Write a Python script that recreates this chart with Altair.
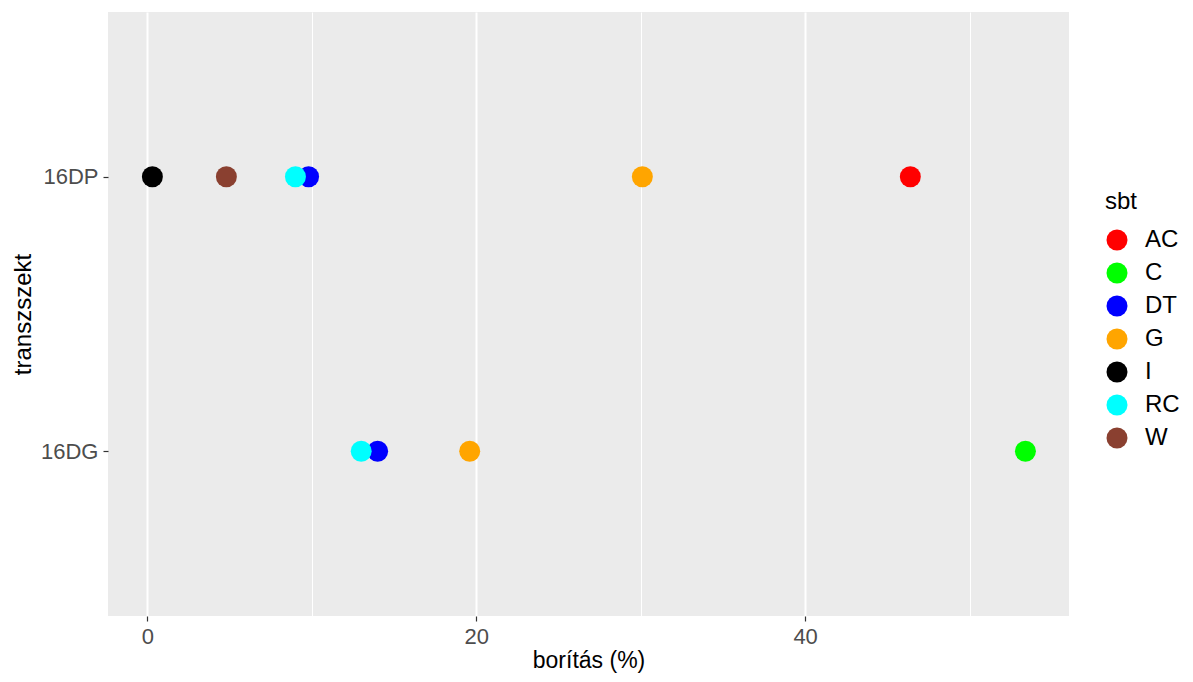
import altair as alt
import pandas as pd

transects = ["16DP", "16DP", "16DP", "16DP", "16DP", "16DP",
             "16DG", "16DG", "16DG", "16DG"]
groups = ["AC", "DT", "G", "I", "RC", "W",
          "C", "DT", "G", "RC"]
cover = [46.4, 9.8, 30.1, 0.3, 9.0, 4.8,
         53.4, 14.0, 19.6, 13.0]

sbt_levels = ["AC", "C", "DT", "G", "I", "RC", "W"]
sbt_colors = ["#ff0000", "#00ff00", "#0000ff", "#ffa500", "#000000", "#00ffff", "#8a4030"]

df = pd.DataFrame({"transszekt": transects, "sbt": groups, "boritas": cover})
df["order"] = df["sbt"].map({k: i for i, k in enumerate(sbt_levels)})
df = df.sort_values("order")

font = "Liberation Sans"

chart = alt.Chart(df).mark_point(filled=True, opacity=1, size=440, shape="circle").encode(
    x=alt.X("boritas:Q", title="borítás (%)",
            scale=alt.Scale(domain=[-2.4, 56.05], nice=False, zero=False),
            axis=alt.Axis(values=[0, 10, 20, 30, 40, 50],
                          labelExpr="datum.value % 20 === 0 ? datum.label : ''",
                          tickOpacity={"condition": {"test": "datum.value % 20 === 0", "value": 1}, "value": 0},
                          gridWidth={"condition": {"test": "datum.value % 20 === 0", "value": 2}, "value": 1},
                          labelPadding=5, titlePadding=2, titleFontSize=23)),
    y=alt.Y("transszekt:N", title="transzszekt", sort=["16DP", "16DG"],
            scale=alt.Scale(type="point", padding=0.6),
            axis=alt.Axis(labelPadding=5, titlePadding=5, gridWidth=2, titleFontSize=24)),
    color=alt.Color("sbt:N", scale=alt.Scale(domain=sbt_levels, range=sbt_colors),
                    legend=alt.Legend(title="sbt", orient="none", legendX=997, legendY=178,
                                      symbolSize=440, symbolType="circle",
                                      rowPadding=9, titlePadding=14,
                                      labelFontSize=24, titleFontSize=24,
                                      labelFont=font, titleFont=font,
                                      titleFontWeight="normal", labelColor="#000000",
                                      labelOffset=16, symbolStrokeWidth=0)),
    order=alt.Order("order:Q"),
).properties(
    width=961, height=604,
    autosize=alt.AutoSizeParams(type="none"),
    padding={"left": 100, "top": 4, "right": 116, "bottom": 58},
).configure_view(
    fill="#ebebeb", stroke=None
).configure_axis(
    domain=False, gridColor="#ffffff", tickColor="#333333", tickSize=5, tickWidth=1.2,
    labelFont=font, labelFontSize=22, labelColor="#4d4d4d",
    titleFont=font, titleFontWeight="normal", titleColor="#000000",
)

chart.save("out.html", embed_options={"renderer": "svg", "actions": False})
